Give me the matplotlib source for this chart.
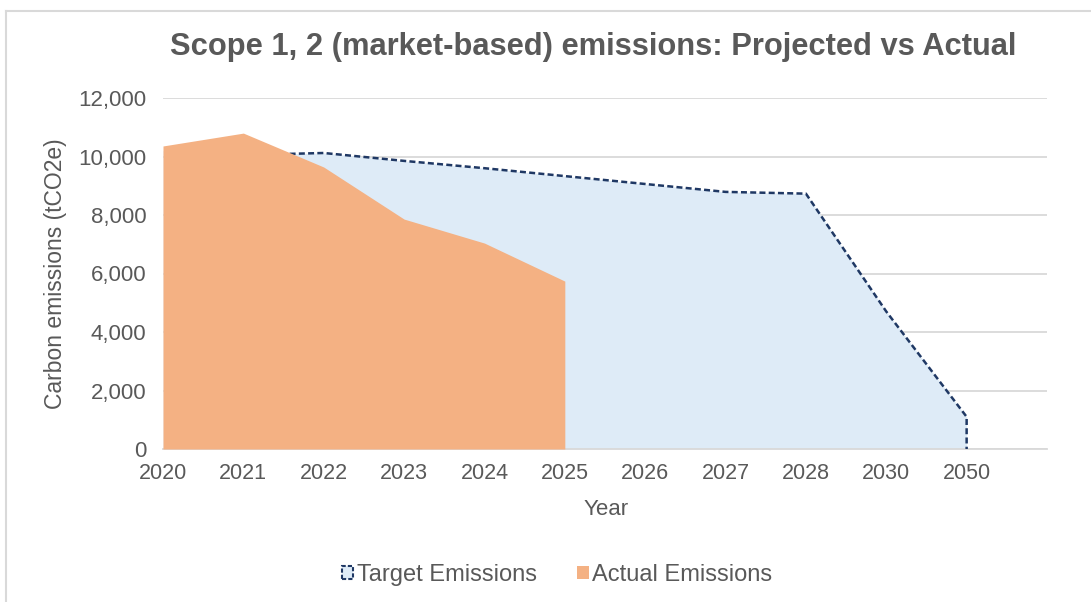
import numpy as np
import matplotlib.pyplot as plt
from matplotlib.lines import Line2D
from matplotlib.patches import Patch

plt.rcParams['font.family'] = ['Liberation Sans', 'DejaVu Sans']

# 데이터
years = ['2020', '2021', '2022', '2023', '2024', '2025', '2026', '2027', '2028', '2030', '2050']
target = [10200, 10050, 10120, 9850, 9600, 9330, 9060, 8790, 8730, 4700, 1100]
actual = [10360, 10800, 9640, 7860, 7040, 5740]

txt = '#595959'
grid_c = '#D9D9D9'
blue_fill = '#DEEBF7'
navy = '#1F3864'
orange = '#F4B183'

fig = plt.figure(figsize=(10.91, 6.02), dpi=100)
ax = fig.add_axes([163/1091, 1-449/602, 884/1091, 351/602])

x_t = np.arange(len(target))
x_a = np.arange(len(actual))

# 목표 배출량 (면적 + 점선 테두리), 2020 구간은 실제 배출량에 가려짐
ax.fill_between(x_t, target, 0, color=blue_fill, lw=0, zorder=2)
ax.plot(list(x_t[1:]) + [x_t[-1]], list(target[1:]) + [0], color=navy, lw=1.8,
        dashes=(2.4, 1.3), zorder=3)
# 실제 배출량
ax.fill_between(x_a, actual, 0, color=orange, lw=0, zorder=4)

ax.set_xlim(0, 11)
ax.set_ylim(0, 12000)
ax.set_xticks(x_t)
ax.set_xticklabels(years)
ax.set_yticks(np.arange(0, 12001, 2000))
ax.set_yticklabels(['{:,}'.format(v) for v in range(0, 12001, 2000)])
ax.tick_params(axis='y', length=0, labelsize=16, colors=txt, pad=12)
ax.tick_params(axis='x', length=0, labelsize=15.5, colors=txt, pad=10)
ax.grid(axis='y', color=grid_c, lw=1.3, zorder=1)
ax.set_axisbelow(True)
for s in ['top', 'right', 'left']:
    ax.spines[s].set_visible(False)
ax.spines['bottom'].set_color(grid_c)
ax.spines['bottom'].set_linewidth(1.3)

ax.set_ylabel('Carbon emissions (tCO2e)', fontsize=16.5, color=txt)
ax.yaxis.set_label_coords(-0.109, 0.5)
ax.set_xlabel('Year', fontsize=16, color=txt)
ax.xaxis.set_label_coords(0.501, -0.142)

fig.text(0.544, 0.922, 'Scope 1, 2 (market-based) emissions: Projected vs Actual',
         ha='center', va='center', fontsize=22.2, fontweight='bold', color=txt)

handles = [Patch(facecolor=blue_fill, edgecolor=navy, linestyle=(0, (2, 1)), lw=1.5),
           Patch(facecolor=orange, edgecolor='none')]
fig.legend(handles, ['Target Emissions', 'Actual Emissions'], loc='center',
           bbox_to_anchor=(557/1091, 1-575/602), ncol=2, frameon=False,
           fontsize=17, labelcolor=txt, handlelength=0.5, handleheight=0.5,
           handletextpad=0.15, columnspacing=1.7)

# 차트 테두리
fig.add_artist(Line2D([6/1091, 1], [1-11/602, 1-11/602], color=grid_c, lw=1.5))
fig.add_artist(Line2D([6/1091, 6/1091], [0, 1-11/602], color=grid_c, lw=1.5))

fig.savefig('out.png', dpi=100)
